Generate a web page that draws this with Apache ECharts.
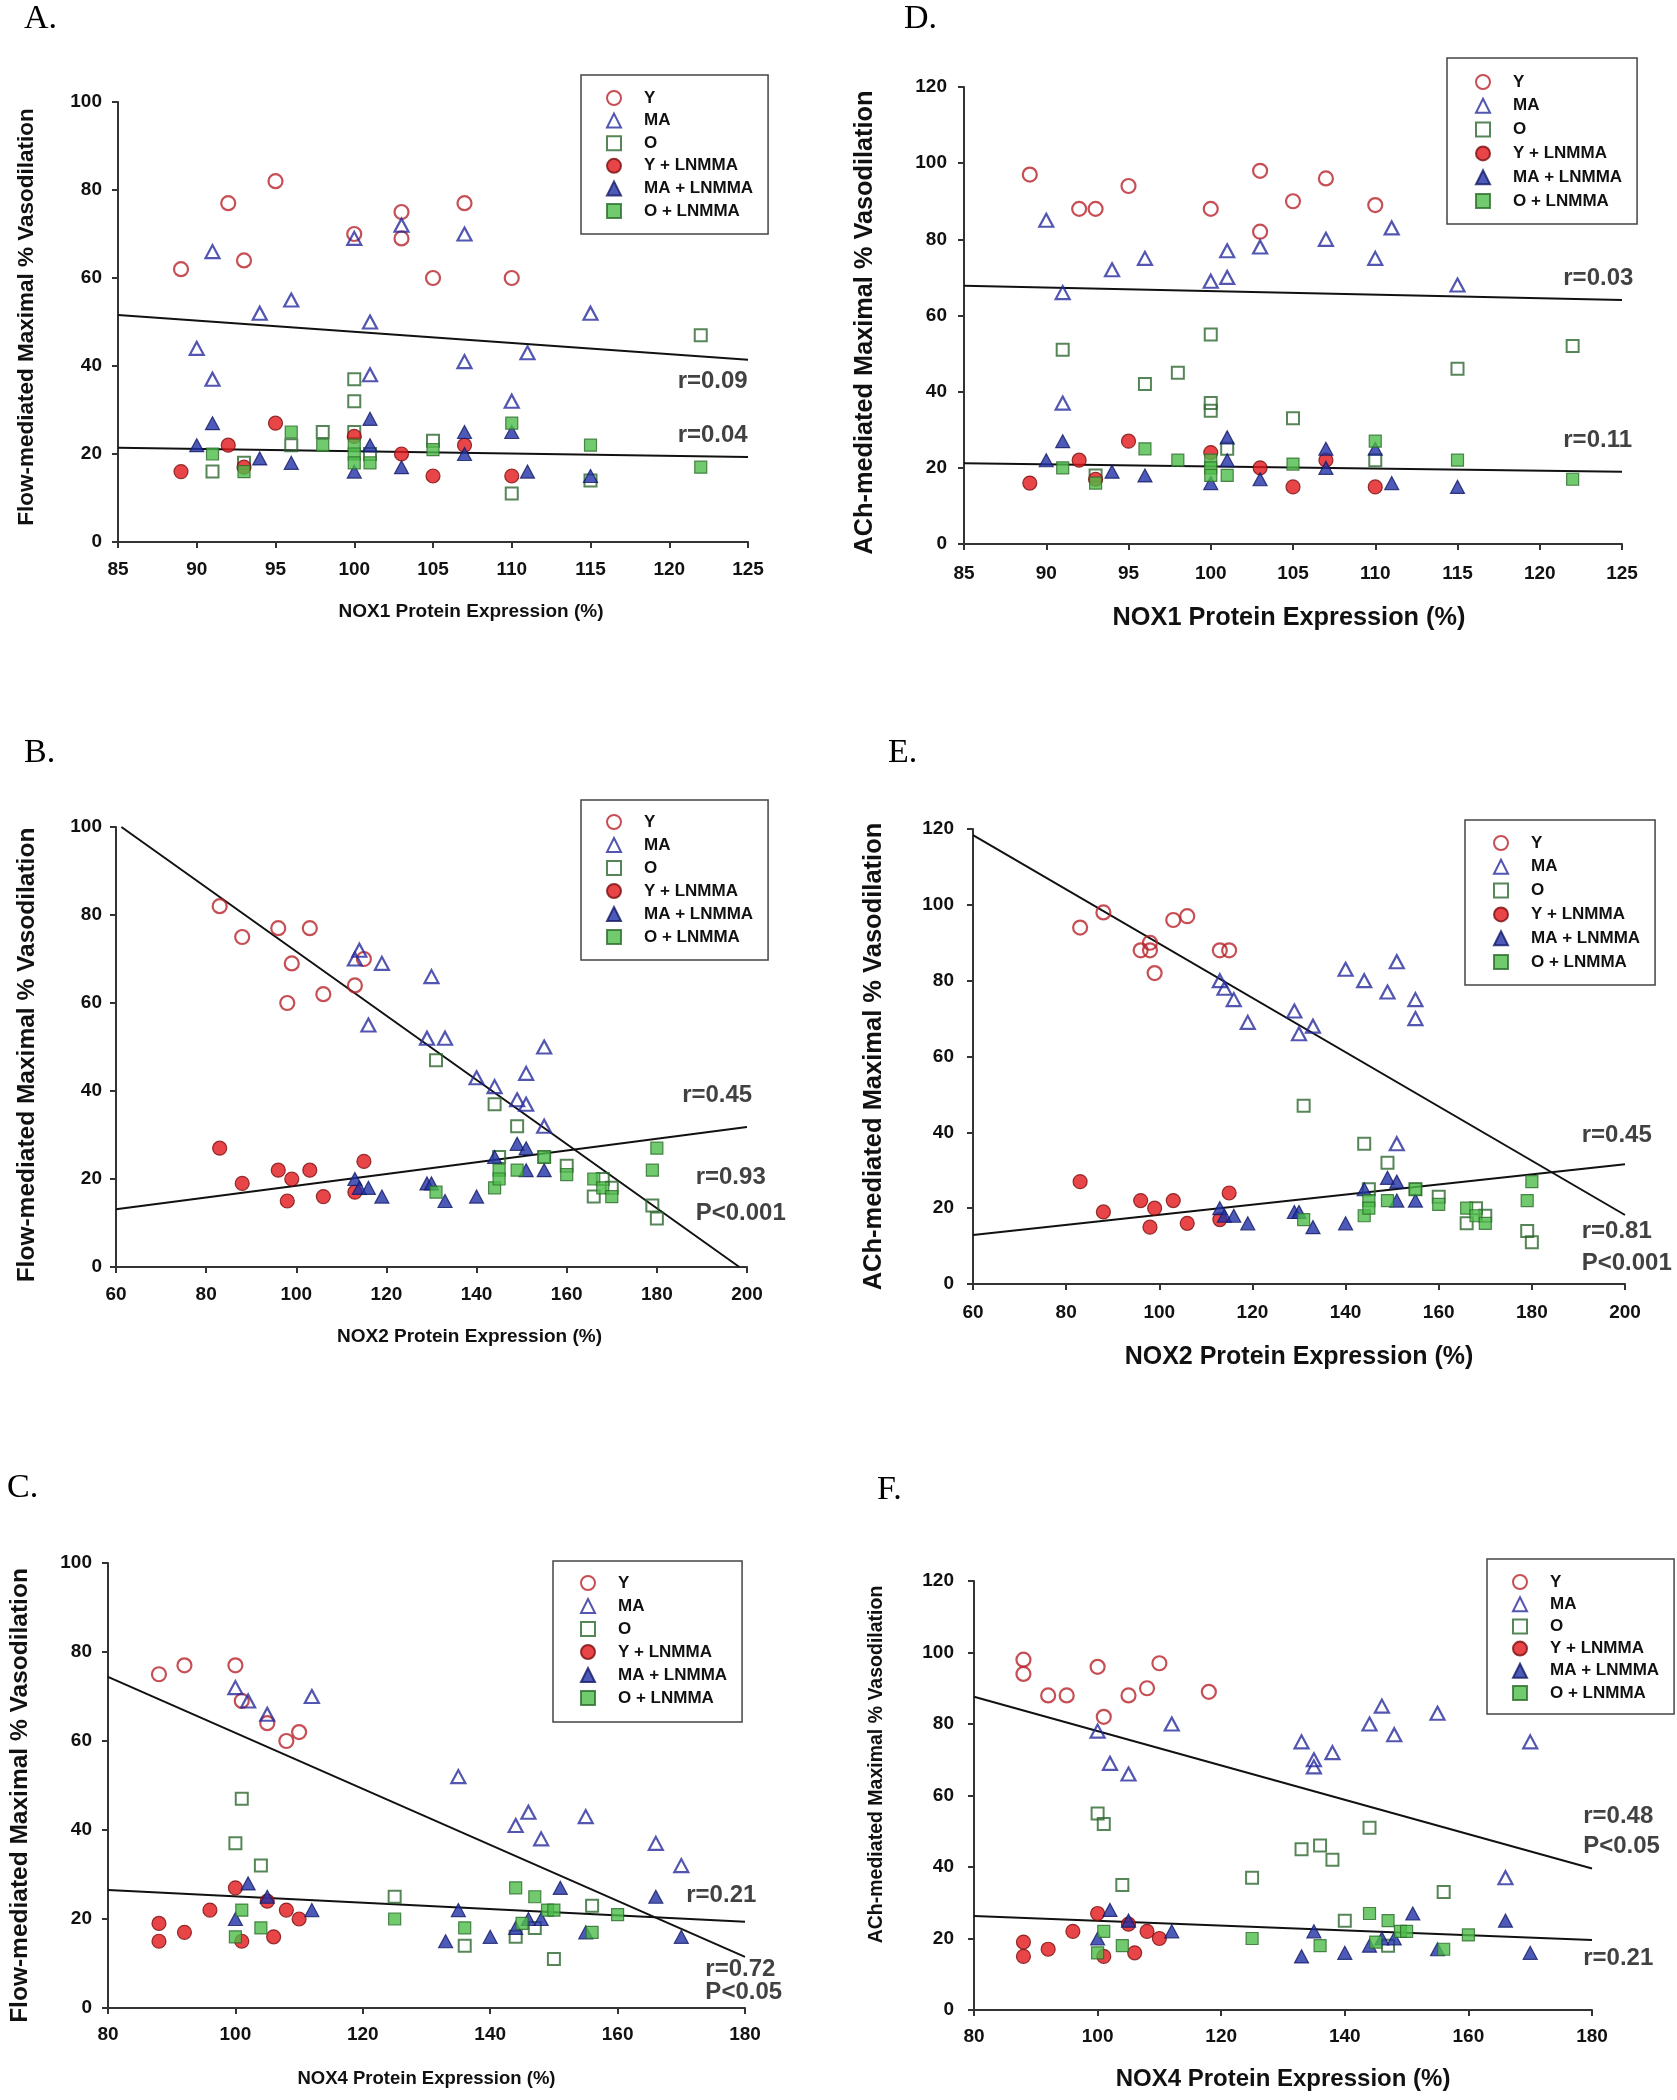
<!DOCTYPE html>
<html><head><meta charset="utf-8">
<script src="https://cdn.jsdelivr.net/npm/echarts@6/dist/echarts.min.js"></script>
<style>html,body{margin:0;padding:0;background:#fff}#c{width:1677px;height:2100px}</style>
</head><body><div id="c"></div>
<script>
// ---------- DATA ----------
const SERIES_NAMES = ['Y', 'MA', 'O', 'Y + LNMMA', 'MA + LNMMA', 'O + LNMMA'];

// Panel A: NOX1 vs flow-mediated
const A_Y   = [[89,62],[92,77],[93,64],[95,82],[100,70],[103,75],[103,69],[105,60],[107,77],[110,60]];
const A_MA  = [[90,44],[91,66],[91,37],[94,52],[96,55],[100,69],[101,50],[101,38],[103,72],[107,70],[107,41],[110,32],[111,43],[115,52]];
const A_O   = [[91,16],[93,18],[96,22],[98,25],[100,37],[100,32],[100,25],[101,20],[105,23],[110,11],[115,14],[122,47]];
const A_YL  = [[89,16],[92,22],[93,17],[95,27],[100,24],[103,20],[105,15],[107,22],[110,15]];
const A_MAL = [[90,22],[91,27],[94,19],[96,18],[100,16],[101,28],[101,22],[103,17],[107,25],[107,20],[110,25],[111,16],[115,15]];
const A_OL  = [[91,20],[93,16],[96,25],[98,22],[100,22],[100,20],[100,18],[101,18],[105,21],[110,27],[115,22],[122,17]];
const A_FITS = [[[85,51.6],[125,41.4]], [[85,21.4],[125,19.3]]];
const A_NOTES = [['r=0.09',[120.5,36.6]], ['r=0.04',[120.5,24.3]]];

// Panel D: NOX1 vs ACh-mediated
const D_Y   = [[89,97],[92,88],[93,88],[95,94],[100,88],[103,98],[103,82],[105,90],[107,96],[110,89]];
const D_MA  = [[90,85],[91,66],[91,37],[94,72],[96,75],[100,69],[101,70],[101,77],[103,78],[107,80],[110,75],[111,83],[115,68]];
const D_O   = [[91,51],[93,18],[96,42],[98,45],[100,55],[100,37],[100,35],[101,25],[105,33],[110,22],[115,46],[122,52]];
const D_YL  = [[89,16],[92,22],[93,17],[95,27],[100,24],[103,20],[105,15],[107,22],[110,15]];
const D_MAL = [[90,22],[91,27],[94,19],[96,18],[100,16],[101,28],[101,22],[103,17],[107,25],[107,20],[110,25],[111,16],[115,15]];
const D_OL  = [[91,20],[93,16],[96,25],[98,22],[100,22],[100,20],[100,18],[101,18],[105,21],[110,27],[115,22],[122,17]];
const D_FITS = [[[85,67.8],[125,64.1]], [[85,21.2],[125,19.0]]];
const D_NOTES = [['r=0.03',[121.4,69.8]], ['r=0.11',[121.4,27.3]]];

// Panel B: NOX2 vs flow-mediated
const B_Y   = [[83,82],[88,75],[96,77],[98,60],[99,69],[103,77],[106,62],[113,64],[115,70]];
const B_MA  = [[113,70],[114,72],[116,55],[119,69],[129,52],[130,66],[133,52],[140,43],[144,41],[149,38],[151,37],[151,44],[155,50],[155,32]];
const B_O   = [[131,47],[144,37],[145,25],[149,32],[155,25],[160,23],[166,16],[168,20],[170,18],[179,14],[180,11]];
const B_YL  = [[83,27],[88,19],[96,22],[98,15],[99,20],[103,22],[106,16],[113,17],[115,24]];
const B_MAL = [[113,20],[114,18],[116,18],[119,16],[129,19],[130,19],[133,15],[140,16],[144,25],[149,28],[151,27],[151,22],[155,22]];
const B_OL  = [[131,17],[144,18],[145,22],[145,20],[149,22],[155,25],[160,21],[166,20],[168,18],[170,16],[179,22],[180,27]];
const B_FITS = [[[61.2,100],[198.3,0]], [[60,13.1],[200,31.8]]];
const B_NOTES = [['r=0.45',[185.5,39.1]], ['r=0.93\nP<0.001',[188.5,16.2]]];

// Panel E: NOX2 vs ACh-mediated
const E_Y   = [[83,94],[88,98],[96,88],[98,90],[98,88],[99,82],[103,96],[106,97],[113,88],[115,88]];
const E_MA  = [[113,80],[114,78],[116,75],[119,69],[129,72],[130,66],[133,68],[140,83],[144,80],[149,77],[151,85],[155,75],[155,70],[151,37]];
const E_O   = [[131,47],[144,37],[145,25],[149,32],[155,25],[160,23],[166,16],[168,20],[170,18],[179,14],[180,11]];
const E_YL  = [[83,27],[88,19],[96,22],[98,15],[99,20],[103,22],[106,16],[113,17],[115,24]];
const E_MAL = [[113,20],[114,18],[116,18],[119,16],[129,19],[130,19],[133,15],[140,16],[144,25],[149,28],[151,27],[151,22],[155,22]];
const E_OL  = [[131,17],[144,18],[145,22],[145,20],[149,22],[155,25],[160,21],[166,20],[168,18],[170,16],[179,22],[180,27]];
const E_FITS = [[[60,118.4],[200,18.2]], [[60,12.9],[200,31.6]]];
const E_NOTES = [['r=0.45',[190.6,39.3]], ['r=0.81\nP<0.001',[190.6,9.6]]];

// Panel C: NOX4 vs flow-mediated
const C_Y   = [[88,75],[92,77],[100,77],[101,69],[105,64],[108,60],[110,62]];
const C_MA  = [[100,72],[102,69],[105,66],[112,70],[135,52],[144,41],[146,44],[148,38],[155,43],[166,37],[170,32]];
const C_O   = [[100,37],[101,47],[104,32],[125,25],[136,14],[144,16],[147,18],[150,11],[156,23]];
const C_YL  = [[88,19],[88,15],[92,17],[96,22],[100,27],[101,15],[105,24],[106,16],[108,22],[110,20]];
const C_MAL = [[100,20],[102,28],[105,25],[112,22],[133,15],[135,22],[140,16],[144,18],[146,20],[148,20],[151,27],[155,17],[166,25],[170,16]];
const C_OL  = [[100,16],[101,22],[104,18],[125,20],[136,18],[144,27],[145,19],[147,25],[149,22],[150,22],[156,17],[160,21]];
const C_FITS = [[[80,74.4],[180,11.5]], [[80,26.5],[180,19.4]]];
const C_NOTES = [['r=0.21',[170.7,25.2]], ['r=0.72\nP<0.05',[173.7,6.0]]];

// Panel F: NOX4 vs ACh-mediated
const F_Y   = [[88,98],[88,94],[92,88],[95,88],[100,96],[101,82],[105,88],[108,90],[110,97],[118,89]];
const F_MA  = [[100,78],[102,69],[105,66],[112,80],[133,75],[135,70],[135,68],[138,72],[144,80],[146,85],[148,77],[155,83],[166,37],[170,75]];
const F_O   = [[100,55],[101,52],[104,35],[125,37],[133,45],[136,46],[138,42],[140,25],[144,51],[147,18],[156,33]];
const F_YL  = [[88,19],[88,15],[92,17],[96,22],[100,27],[101,15],[105,24],[106,16],[108,22],[110,20]];
const F_MAL = [[100,20],[102,28],[105,25],[112,22],[133,15],[135,22],[140,16],[144,18],[146,20],[148,20],[151,27],[155,17],[166,25],[170,16]];
const F_OL  = [[100,16],[101,22],[104,18],[125,20],[136,18],[144,27],[145,19],[147,25],[149,22],[150,22],[156,17],[160,21]];
const F_FITS = [[[80,87.6],[180,39.6]], [[80,26.3],[180,19.6]]];
const F_NOTES = [['r=0.48\nP<0.05',[178.5,49.9]], ['r=0.21',[178.5,14.5]]];

const X_NAMES = ['NOX1 Protein Expression (%)','NOX2 Protein Expression (%)','NOX4 Protein Expression (%)'];
const Y_NAMES = ['Flow-mediated Maximal % Vasodilation','ACh-mediated Maximal % Vasodilation'];
const LETTERS = ['A.','D.','B.','E.','C.','F.'];

// ---------- LAYOUT / STYLE ----------
const FONT = '"Liberation Sans", Arial, sans-serif';
const SERIF = '"Liberation Serif", "Times New Roman", serif';
const PANELS = [
  {letter:LETTERS[0], lpos:[24,2], data:[A_Y,A_MA,A_O,A_YL,A_MAL,A_OL], fits:A_FITS, notes:A_NOTES, noteLH:30,
   grid:{left:118,top:102,width:630,height:440}, x:[85,125,5], y:[0,100,20], xName:X_NAMES[0], yName:Y_NAMES[0],
   xNS:19, yNS:22.5, xNG:60, yNG:80, xLM:18, yLM:16, xShift:76, yShift:10,
   legend:{left:581, top:75, padding:[14.5,15,14.5,25], itemGap:5.6}},
  {letter:LETTERS[1], lpos:[904,2], data:[D_Y,D_MA,D_O,D_YL,D_MAL,D_OL], fits:D_FITS, notes:D_NOTES, noteLH:30,
   grid:{left:964,top:87,width:658,height:457}, x:[85,125,5], y:[0,120,20], xName:X_NAMES[0], yName:Y_NAMES[1],
   xNS:25.3, yNS:25.3, xNG:62, yNG:86, xLM:20, yLM:17, xShift:-8, yShift:-14,
   legend:{left:1447, top:58, padding:[15.5,15,14.5,28], itemGap:6.8}},
  {letter:LETTERS[2], lpos:[24,736], data:[B_Y,B_MA,B_O,B_YL,B_MAL,B_OL], fits:B_FITS, notes:B_NOTES, noteLH:36,
   grid:{left:116,top:827,width:631,height:440}, x:[60,200,20], y:[0,100,20], xName:X_NAMES[1], yName:Y_NAMES[0],
   xNS:19, yNS:24.5, xNG:60, yNG:76, xLM:18, yLM:14, xShift:76, yShift:-16,
   legend:{left:581, top:800, padding:[13.5,15,14.5,25], itemGap:6}},
  {letter:LETTERS[3], lpos:[888,736], data:[E_Y,E_MA,E_O,E_YL,E_MAL,E_OL], fits:E_FITS, notes:E_NOTES, noteLH:32,
   grid:{left:973,top:829,width:652,height:455}, x:[60,200,20], y:[0,120,20], xName:X_NAMES[1], yName:Y_NAMES[1],
   xNS:25, yNS:25.5, xNG:61, yNG:86, xLM:19, yLM:19, xShift:0, yShift:0,
   legend:{left:1465, top:820, padding:[14.5,15,14.5,28], itemGap:6.8}},
  {letter:LETTERS[4], lpos:[7,1471], data:[C_Y,C_MA,C_O,C_YL,C_MAL,C_OL], fits:C_FITS, notes:C_NOTES, noteLH:23,
   grid:{left:108,top:1563,width:637,height:445}, x:[80,180,20], y:[0,100,20], xName:X_NAMES[2], yName:Y_NAMES[0],
   xNS:18.5, yNS:24.5, xNG:61, yNG:75, xLM:17, yLM:16, xShift:0, yShift:-20,
   legend:{left:553, top:1561, padding:[13.5,15,15.5,27], itemGap:6}},
  {letter:LETTERS[5], lpos:[877,1473], data:[F_Y,F_MA,F_O,F_YL,F_MAL,F_OL], fits:F_FITS, notes:F_NOTES, noteLH:30,
   grid:{left:974,top:1581,width:618,height:429}, x:[80,180,20], y:[0,120,20], xName:X_NAMES[2], yName:Y_NAMES[1],
   xNS:24, yNS:19.5, xNG:57, yNG:87, xLM:17, yLM:20, xShift:0, yShift:62,
   legend:{left:1487, top:1559, padding:[14.5,15,12.5,25], itemGap:5.2}}
];

const HOLLOW = 'rgba(255,255,255,0)';
const MARK = [
  {symbol:'circle',   size:14,      itemStyle:{color:HOLLOW,   borderColor:'#b8232a', borderWidth:2.2}},
  {symbol:'triangle', size:[14,13], itemStyle:{color:HOLLOW,   borderColor:'#272c9c', borderWidth:2.2}},
  {symbol:'rect',     size:12,      itemStyle:{color:HOLLOW,   borderColor:'#2c672d', borderWidth:2}},
  {symbol:'circle',   size:14,      itemStyle:{color:'#e2161c', borderColor:'#7c0d0d', borderWidth:1.2}},
  {symbol:'triangle', size:[14,13], itemStyle:{color:'#2131a6', borderColor:'#131a66', borderWidth:1.2}},
  {symbol:'rect',     size:12,      itemStyle:{color:'#4dbd49', borderColor:'#2b6b2b', borderWidth:1.2}}
];
const AXIS_COLOR = '#333';
const TEXT_COLOR = '#111';

// ---------- BUILD ----------
const option = {animation:false, backgroundColor:'#fff', grid:[], xAxis:[], yAxis:[], series:[], legend:[], title:[]};
PANELS.forEach((p, i) => {
  option.grid.push(Object.assign({containLabel:false}, p.grid));
  option.title.push({text:p.letter, left:p.lpos[0], top:p.lpos[1], padding:0,
    textStyle:{fontFamily:SERIF, fontSize:34, fontWeight:'normal', color:'#000'}});
  const axisCommon = {
    type:'value', gridIndex:i, nameLocation:'middle',
    axisLine:{show:true, onZero:false, lineStyle:{color:AXIS_COLOR, width:2}},
    axisTick:{show:true, inside:false, length:6, lineStyle:{color:AXIS_COLOR, width:2}},
    splitLine:{show:false}
  };
  const pad = (s) => s >= 0 ? [0,0,0,s] : [0,-s,0,0];
  option.xAxis.push(Object.assign({}, axisCommon, {
    min:p.x[0], max:p.x[1], interval:p.x[2], name:p.xName, nameGap:p.xNG,
    nameTextStyle:{fontFamily:FONT, fontSize:p.xNS, fontWeight:'bold', color:TEXT_COLOR, padding:pad(p.xShift)},
    axisLabel:{margin:p.xLM, fontFamily:FONT, fontSize:19, fontWeight:'bold', color:TEXT_COLOR}
  }));
  option.yAxis.push(Object.assign({}, axisCommon, {
    min:p.y[0], max:p.y[1], interval:p.y[2], name:p.yName, nameGap:p.yNG, nameRotate:90,
    nameTextStyle:{fontFamily:FONT, fontSize:p.yNS, fontWeight:'bold', color:TEXT_COLOR, padding:pad(p.yShift)},
    axisLabel:{margin:p.yLM, fontFamily:FONT, fontSize:19, fontWeight:'bold', color:TEXT_COLOR}
  }));
  p.fits.forEach(f => option.series.push({
    type:'line', name:'fit', xAxisIndex:i, yAxisIndex:i, data:f, symbol:'none', silent:true, z:1,
    lineStyle:{color:'#111', width:2}
  }));
  p.data.forEach((d, k) => option.series.push({
    type:'scatter', name:SERIES_NAMES[k], xAxisIndex:i, yAxisIndex:i, data:d,
    symbol:MARK[k].symbol, symbolSize:MARK[k].size, itemStyle:MARK[k].itemStyle, z:2 + k * 0.01
  }));
  option.series.push({
    type:'scatter', name:'notes', xAxisIndex:i, yAxisIndex:i, silent:true, z:5,
    symbolSize:1, itemStyle:{color:'rgba(0,0,0,0)'},
    data:p.notes.map(n => ({name:n[0], value:n[1]})),
    label:{show:true, position:'right', distance:0, formatter:(q) => q.name,
      fontFamily:FONT, fontSize:24, fontWeight:'bold', color:TEXT_COLOR, lineHeight:p.noteLH, align:'left'}
  });
  option.legend.push({
    data:SERIES_NAMES, orient:'vertical', left:p.legend.left, top:p.legend.top,
    padding:p.legend.padding, itemGap:p.legend.itemGap, itemWidth:14, itemHeight:14, symbolKeepAspect:true,
    borderColor:'#444', borderWidth:1.5, backgroundColor:'#fff', selectedMode:false,
    textStyle:{fontFamily:FONT, fontSize:17, fontWeight:'bold', color:TEXT_COLOR, lineHeight:17, padding:[0,0,0,18]}
  });
});

const chart = echarts.init(document.getElementById('c'), null, {renderer:'canvas', width:1677, height:2100});
chart.setOption(option);
</script></body></html>
